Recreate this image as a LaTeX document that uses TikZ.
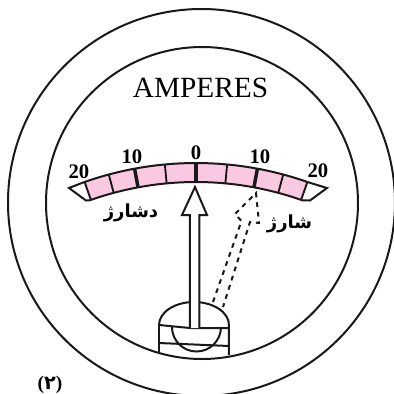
\documentclass[tikz,border=0pt]{standalone}
\usepackage{fontspec}
\setmainfont{Liberation Serif}
\newfontfamily\arabicfont[Script=Arabic]{DejaVu Sans}
\TeXXeTstate=1
\definecolor{pinkband}{RGB}{250,200,224}
\tikzset{
  ink/.style={draw=black!90,line width=1.5pt,line join=miter},
  tickmajor/.style={draw=black!90,line width=2.6pt},
  tickminor/.style={draw=black!90,line width=1.4pt},
  scalelabel/.style={font=\bfseries\fontsize{15.5}{15.5}\selectfont,inner sep=0pt},
  arlabel/.style={font=\arabicfont\bfseries\fontsize{13.5}{14}\selectfont,inner sep=0pt},
  dashes/.style={draw=black!90,line width=1.5pt,dash pattern=on 3.6pt off 3.6pt},
}
\begin{document}
\begin{tikzpicture}[x=0.75pt,y=-0.75pt]
\useasboundingbox (0,0) rectangle (394,394);
\fill[white] (0,0) rectangle (394,394);
% circles
\begin{scope}
\clip (0,0) rectangle (394,394);
\draw[ink] (201.5,202.5) circle [radius=193.5];
\draw[ink] (202,203) circle [radius=156];
\end{scope}
% band
\fill[pinkband] plot[domain=-19.5:19.5,samples=40] ({196+337*sin(\x)},{500-337*cos(\x)}) -- plot[domain=19.5:-19.5,samples=40] ({196+318*sin(\x)},{500-318*cos(\x)}) -- cycle;
\draw[ink] plot[domain=-19.5:19.5,samples=40] ({196+337*sin(\x)},{500-337*cos(\x)}) -- (327,188) -- (310,200.5) -- plot[domain=19.5:-19.5,samples=40] ({196+318*sin(\x)},{500-318*cos(\x)}) -- (86,200.5) -- (69,188) -- cycle;
\foreach \a in {-19.3,-15,-5.3,5.3,15,19.3} \draw[tickminor] ({196+337*sin(\a)},{500-337*cos(\a)}) -- ({196+318*sin(\a)},{500-318*cos(\a)});
\foreach \a in {-10.5,0,10.5} \draw[tickmajor] ({196+337*sin(\a)},{500-337*cos(\a)}) -- ({196+318*sin(\a)},{500-318*cos(\a)});
% labels
\node (amp) at (200.5,88) {\fontsize{22}{22}\selectfont AMPERES};
\node[scalelabel] (l20) at (79,171.5) {20};
\node[scalelabel] (l10) at (132,157) {10};
\node[scalelabel] (z) at (196,152.5) {0};
\node[scalelabel] (r10) at (260,157) {10};
\node[scalelabel] (r20) at (318,170.5) {20};
\node[arlabel] (disch) at (131,213) {\beginR دشارژ\endR};
\node[arlabel] (ch) at (289.5,224) {\beginR شارژ\endR};
\node[font=\bfseries\fontsize{14.5}{14.5}\selectfont,inner sep=0pt] (fig) at (50,385) {({\arabicfont ۲})};
% base
\draw[ink] (159,325) arc[start angle=180,end angle=360,x radius=35,y radius=23] -- (229,355);
\draw[ink] (159,325) -- (159,352);
\draw[ink] (159,325) -- (190,328) -- (229,328);
\draw[ink] (159,343) -- (229,346);
\draw[ink] (172,327) arc[start angle=180,end angle=0,radius=24.5];
% solid pointer
\draw[ink,fill=white] (190,328) -- (190,215) -- (182,215) -- (195,187) -- (207,215) -- (199.5,215) -- (199.5,328);
% dashed pointer
\draw[dashes] (213,302) -- (241.5,221) -- (235,214) -- (256,193) -- (259,223) -- (250,222) -- (223,307);
\end{tikzpicture}
\end{document}
